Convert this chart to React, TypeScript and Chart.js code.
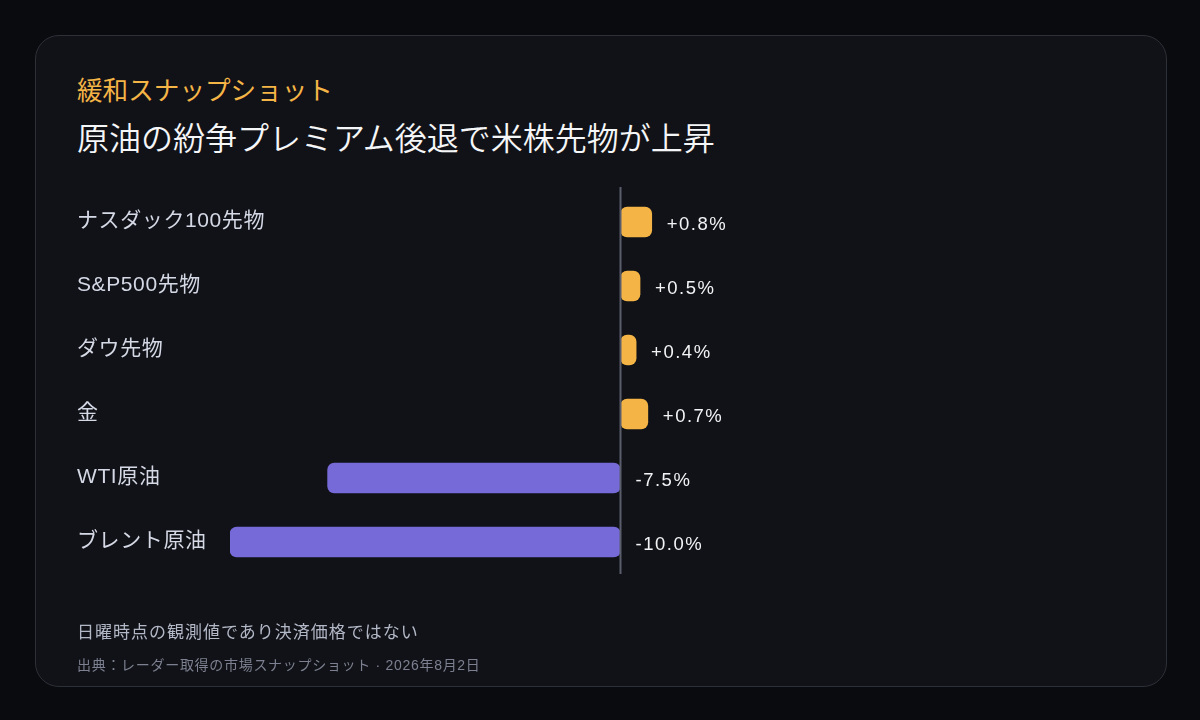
import React, { useEffect, useRef } from "react";
import { Chart, registerables } from "chart.js";

Chart.register(...registerables);

const kicker = "緩和スナップショット";
const title = "原油の紛争プレミアム後退で米株先物が上昇";
const note = "日曜時点の観測値であり決済価格ではない";
const source = "出典：レーダー取得の市場スナップショット · 2026年8月2日";

const categories = ["ナスダック100先物", "S&P500先物", "ダウ先物", "金", "WTI原油", "ブレント原油"];
const changes = [0.8, 0.5, 0.4, 0.7, -7.5, -10.0];
const valueLabels = ["+0.8%", "+0.5%", "+0.4%", "+0.7%", "-7.5%", "-10.0%"];
const xMin = -10;
const xMax = 10;

const UP = "#f5b546";
const DOWN = "#7669d8";
const FONT = "'Liberation Sans', Arial, 'Noto Sans CJK JP', sans-serif";

const labelsPlugin = {
  id: "labelsAndZero",
  afterDatasetsDraw(chart: any) {
    const ctx = chart.ctx;
    const xs = chart.scales.x;
    const ys = chart.scales.y;
    const area = chart.chartArea;
    const zx = xs.getPixelForValue(0);
    ctx.save();
    ctx.strokeStyle = "#5a5e6c";
    ctx.lineWidth = 2;
    ctx.beginPath();
    ctx.moveTo(zx, area.top - 3);
    ctx.lineTo(zx, area.bottom);
    ctx.stroke();

    // category labels, positioned from the y scale
    ctx.fillStyle = "#d5d9e6";
    ctx.font = `21px ${FONT}`;
    (ctx as any).letterSpacing = "0.6px";
    ctx.textAlign = "left";
    ctx.textBaseline = "middle";
    categories.forEach((c, i) => {
      ctx.fillText(c, ys.left, ys.getPixelForValue(i) - 1);
    });

    const meta = chart.getDatasetMeta(0);
    ctx.fillStyle = "#f2f3f5";
    ctx.font = `18.5px ${FONT}`;
    (ctx as any).letterSpacing = "1.5px";
    meta.data.forEach((bar: any, i: number) => {
      const v = changes[i];
      const x = v >= 0 ? bar.x + 15 : zx + 15;
      ctx.fillText(valueLabels[i], x, bar.y + 3);
    });
    ctx.restore();
  },
};

function BarChart() {
  const ref = useRef<HTMLCanvasElement | null>(null);
  useEffect(() => {
    if (!ref.current) return;
    const chart = new Chart(ref.current, {
      type: "bar",
      data: {
        labels: categories,
        datasets: [
          {
            data: changes,
            backgroundColor: changes.map((v) => (v >= 0 ? UP : DOWN)),
            barThickness: 30,
            borderRadius: 7,
            borderSkipped: false,
          },
        ],
      },
      options: {
        indexAxis: "y",
        responsive: false,
        animation: false,
        layout: { padding: { left: 77, top: 190, bottom: 146, right: 189 } },
        plugins: { legend: { display: false }, tooltip: { enabled: false } },
        scales: {
          x: { display: false, min: xMin, max: xMax },
          y: {
            grid: { display: false },
            border: { display: false },
            afterFit: (scale: any) => {
              scale.width = 230 - 77;
            },
            ticks: { display: false },
          },
        },
      },
      plugins: [labelsPlugin],
    });
    return () => chart.destroy();
  }, []);
  return (
    <canvas
      ref={ref}
      width={1200}
      height={720}
      style={{ position: "absolute", left: 0, top: 0, width: 1200, height: 720 }}
    />
  );
}

export default function App() {
  const txt = (extra: React.CSSProperties): React.CSSProperties => ({
    position: "absolute",
    left: 77,
    margin: 0,
    whiteSpace: "nowrap",
    fontFamily: FONT,
    lineHeight: 1,
    ...extra,
  });
  return (
    <div style={{ position: "fixed", left: 0, top: 0, width: 1200, height: 720, background: "#0a0b0f", overflow: "hidden" }}>
      <div
        style={{
          position: "absolute",
          left: 35,
          top: 35,
          width: 1132,
          height: 652,
          boxSizing: "border-box",
          border: "1.5px solid #2e3039",
          borderRadius: 24,
          background: "#111217",
        }}
      />
      <div style={txt({ top: 78.5, fontSize: 25.6, color: UP })}>{kicker}</div>
      <div style={txt({ top: 123, fontSize: 32, color: "#f5f6f8", fontWeight: 350 })}>{title}</div>
      <BarChart />
      <div style={txt({ top: 623.5, fontSize: 17, color: "#b3b8c7", letterSpacing: "1px" })}>{note}</div>
      <div style={txt({ top: 658, fontSize: 14, color: "#7c8090", letterSpacing: "0.7px" })}>{source}</div>
    </div>
  );
}
